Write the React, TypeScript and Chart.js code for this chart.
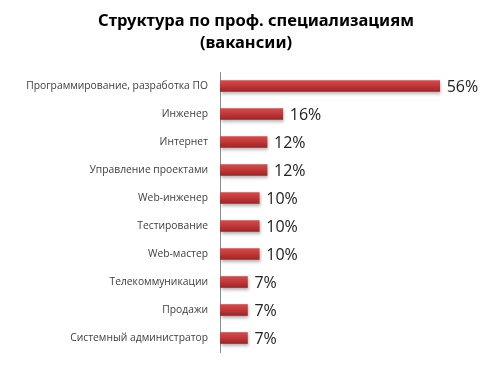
import React, { useEffect, useRef } from "react";
import { Chart, registerables } from "chart.js";

Chart.register(...registerables);

const titleLines = ["Структура по проф. специализациям", "(вакансии)"];
const categories = [
  "Программирование, разработка ПО",
  "Инженер",
  "Интернет",
  "Управление проектами",
  "Web-инженер",
  "Тестирование",
  "Web-мастер",
  "Телекоммуникации",
  "Продажи",
  "Системный администратор",
];
const shares = [56, 16, 12, 12, 10, 10, 10, 7, 7, 7];

const titlePlugin = {
  id: "customTitle",
  afterDraw(chart: any) {
    const ctx = chart.ctx;
    ctx.save();
    ctx.fillStyle = "#000";
    ctx.font = "bold 16.5px 'Noto Sans'";
    ctx.textAlign = "center";
    ctx.textBaseline = "middle";
    ctx.fillText(titleLines[0], 256, 21);
    ctx.fillText(titleLines[1], 246, 43);
    ctx.restore();
  },
};

const shadowPlugin = {
  id: "barShadow",
  beforeDatasetsDraw(chart: any) {
    const ctx = chart.ctx;
    ctx.save();
    ctx.shadowColor = "rgba(0,0,0,0.3)";
    ctx.shadowBlur = 3;
    ctx.shadowOffsetX = 1;
    ctx.shadowOffsetY = 2;
  },
  afterDatasetsDraw(chart: any) {
    chart.ctx.restore();
  },
};

const valueLabelPlugin = {
  id: "valueLabels",
  afterDatasetsDraw(chart: any) {
    const ctx = chart.ctx;
    const meta = chart.getDatasetMeta(0);
    ctx.save();
    ctx.fillStyle = "#222";
    ctx.font = "16px 'Open Sans'";
    ctx.textAlign = "left";
    ctx.textBaseline = "middle";
    meta.data.forEach((el: any, i: number) => {
      ctx.fillText(shares[i] + "%", el.x + 7, el.y + 1);
    });
    ctx.restore();
  },
};

export default function App() {
  const ref = useRef<HTMLCanvasElement>(null);
  useEffect(() => {
    if (!ref.current) return;
    const chart = new Chart(ref.current, {
      type: "bar",
      data: {
        labels: categories,
        datasets: [
          {
            data: shares,
            barThickness: 11,
            borderWidth: 0,
            backgroundColor: (c: any) => {
              const ch = c.chart;
              const ys = ch.scales && ch.scales.y;
              if (!ys || c.dataIndex === undefined) return "#c0393b";
              const y = ys.getPixelForValue(c.dataIndex);
              if (!isFinite(y)) return "#c0393b";
              const g = ch.ctx.createLinearGradient(0, y - 5.5, 0, y + 5.5);
              g.addColorStop(0, "#d54a4a");
              g.addColorStop(0.45, "#c3393b");
              g.addColorStop(1, "#9e2526");
              return g;
            },
          },
        ],
      },
      options: {
        indexAxis: "y",
        animation: false,
        responsive: false,
        layout: { padding: { top: 72, bottom: 24, left: 0, right: 28 } },
        plugins: {
          legend: { display: false },
          title: { display: false },
          tooltip: { enabled: false },
        },
        scales: {
          x: { display: false, min: 0, max: 65 },
          y: {
            afterFit: (s: any) => {
              s.width = 220;
            },
            grid: { display: false, drawTicks: false },
            border: { display: true, color: "#8c8c8c", width: 1 },
            ticks: {
              padding: 12,
              color: "#404040",
              font: { family: "'Open Sans'", size: 10.3 },
            },
          },
        },
      },
      plugins: [titlePlugin, shadowPlugin, valueLabelPlugin],
    });
    return () => chart.destroy();
  }, []);
  return (
    <div style={{ position: "fixed", left: 0, top: 0, width: 503, height: 376, background: "#fff" }}>
      <canvas ref={ref} width={503} height={376} />
    </div>
  );
}
